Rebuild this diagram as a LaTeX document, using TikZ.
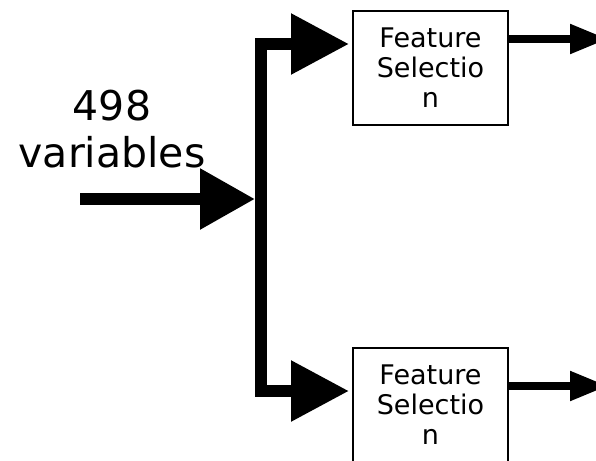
\documentclass[tikz,border=0pt]{standalone}
\usepackage{fontspec}
\setmainfont{DejaVu Sans}
\usetikzlibrary{arrows.meta}
\begin{document}
\begin{tikzpicture}[x=1pt,y=-1pt,
  fsbox/.style={draw, line width=2pt, minimum width=155pt, minimum height=114pt,
    inner sep=0pt, align=center, font=\fontsize{27}{30}\selectfont},
  bus/.style={line width=12pt, line join=miter},
  bighead/.style={-{Triangle[length=58pt,width=58pt]}},
  outarrow/.style={line width=8pt, -{Triangle[length=38pt,width=28pt]}}]
\useasboundingbox (0,0) rectangle (596,460);
\clip (0,0) rectangle (596,460);

% the two selection blocks
\node[fsbox] (fs1) at (430.5,68) {Feature\\Selectio\\n};
\node[fsbox] (fs2) at (430.5,405) {Feature\\Selectio\\n};

% input label
\node[font=\fontsize{41}{47}\selectfont, align=center, inner sep=0pt, anchor=south]
  (lbl) at (112,168) {498\\variables};

% input arrow and the splitting bus
\coordinate (in) at (80,199);
\coordinate (split) at (261,199);
\draw[bus, -{Triangle[length=55pt,width=58pt]}] (in) -- ([xshift=-6pt]split);
\draw[bus, bighead] (split) |- ([xshift=-3pt,yshift=24pt]fs1.west);
\draw[bus, bighead] (split) |- ([xshift=-3pt,yshift=14pt]fs2.west);

% outputs
\coordinate (out1) at (608,39);
\coordinate (out2) at (608,386);
\draw[outarrow] ([yshift=29pt]fs1.east) -- (out1);
\draw[outarrow] ([yshift=19pt]fs2.east) -- (out2);
\end{tikzpicture}
\end{document}
